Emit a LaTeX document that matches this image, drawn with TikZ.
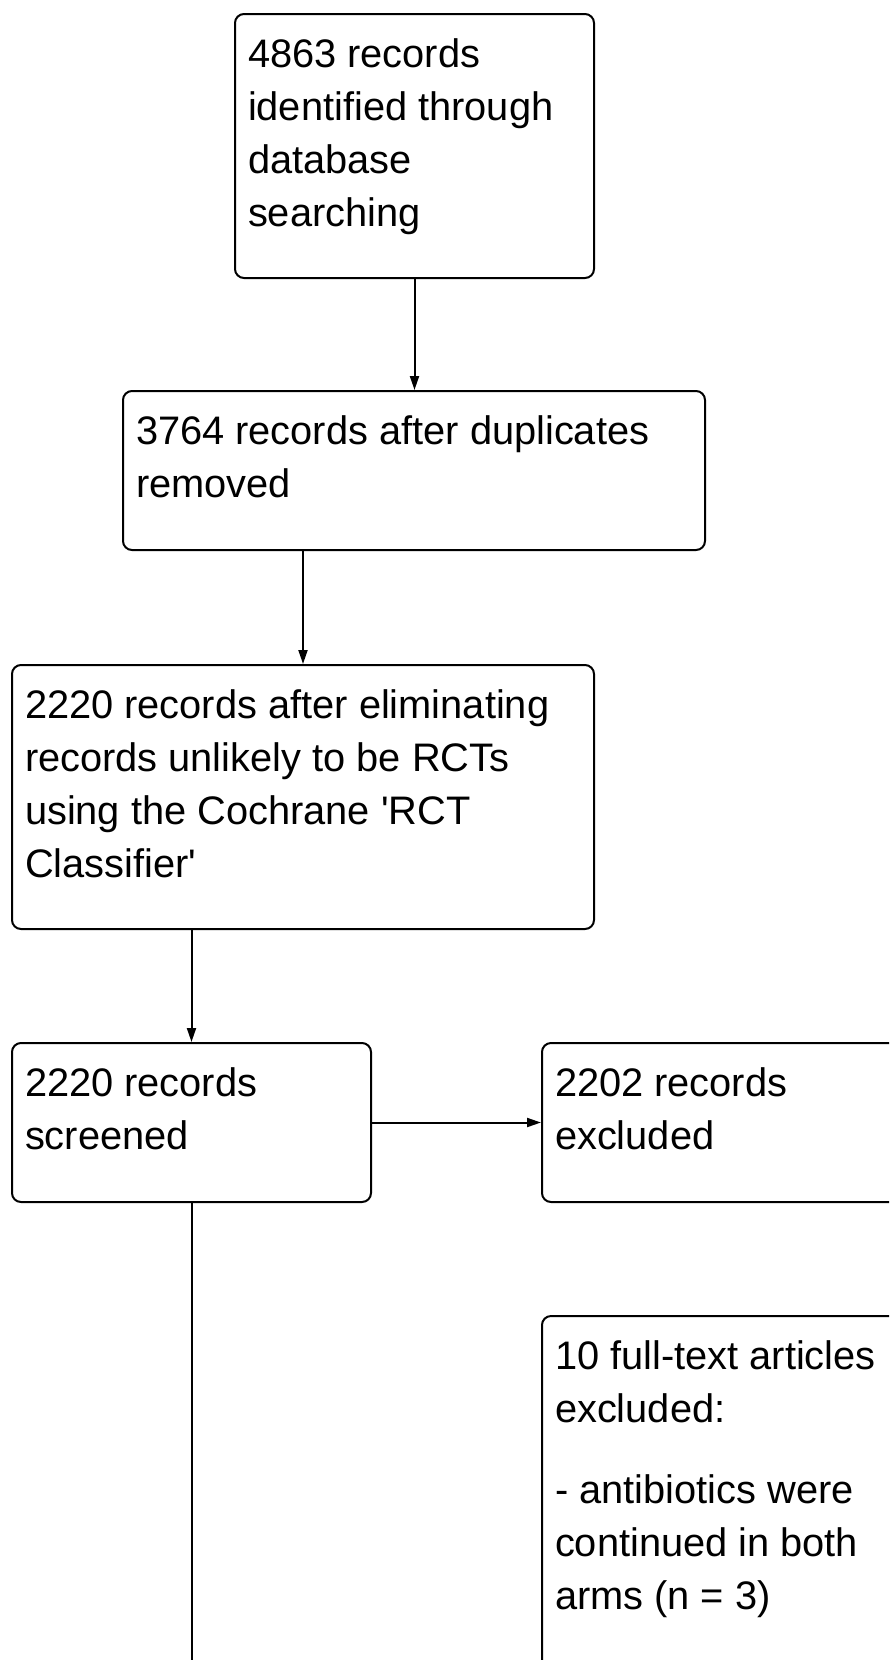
\documentclass[tikz,border=0pt]{standalone}
\usepackage{fontspec}
\setmainfont{Liberation Sans}[Ligatures=TeXOff]
\usetikzlibrary{arrows.meta,positioning}

\begin{document}
\begin{tikzpicture}[x=1pt,y=-1pt,line width=2pt,
  box/.style={draw,rounded corners=9pt,anchor=north west,inner sep=0pt},
  boxtext/.style={anchor=north west,inner sep=0pt,align=left,font=\fontsize{39.8}{53}\selectfont},
  flow/.style={-{Triangle[length=14pt,width=9pt]}}]
  \useasboundingbox (0,0) rectangle (889,1660);
  \clip (0,0) rectangle (889,1660);
  \foreach \n/\x/\y/\w/\h/\t in {
      ident/234/13/359/264/{4863 records\\identified through\\database\\searching},
      dedup/122/390/582/159/{3764 records after duplicates\\removed},
      rctfilter/11/664/582/264/{2220 records after eliminating\\records unlikely to be RCTs\\using the Cochrane 'RCT\\Classifier'},
      screened/11/1042/359/159/{2220 records\\screened},
      screenexcl/541/1042/359/159/{2202 records\\excluded},
      fulltextexcl/541/1315/359/420/{10 full-text articles\\excluded:\\[28pt]- antibiotics were\\continued in both\\arms (n = 3)}} {
    \node[box,minimum width=\w pt,minimum height=\h pt] (\n) at (\x,\y) {};
    \node[boxtext,below right=16pt and 13pt of \n.north west] (\n-txt) {\strut\t};
  }
  \draw[flow] (ident.south) -- (ident.south |- dedup.north);
  \draw[flow] (rctfilter.north |- dedup.south) -- (rctfilter.north);
  \draw[flow] (screened.north |- rctfilter.south) -- (screened.north);
  \draw[flow] (screened.east) -- (screenexcl.west);
  \coordinate (pageend) at (0,1660);
  \draw (screened.south) -- (screened.south |- pageend);
\end{tikzpicture}
\end{document}
